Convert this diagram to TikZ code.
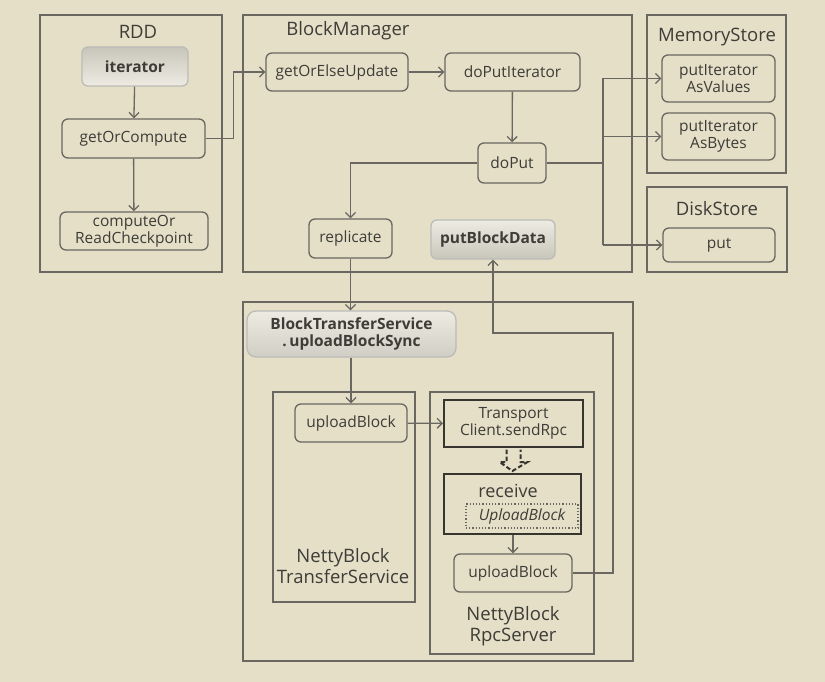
\documentclass[tikz,border=0pt]{standalone}
\usepackage{fontspec}
\setmainfont{Open Sans}
\usetikzlibrary{arrows.meta,calc}
\definecolor{bg}{RGB}{229,223,200}
\definecolor{ln}{RGB}{105,103,95}
\definecolor{dk}{RGB}{55,53,48}
\definecolor{tx}{RGB}{62,60,55}
\definecolor{shdark}{RGB}{200,198,186}
\definecolor{shlight}{RGB}{238,236,226}
\begin{document}
\begin{tikzpicture}[x=1pt,y=-1pt,
  font=\fontsize{15.5}{17}\selectfont, text=tx,
  cont/.style={draw=ln, line width=1.3pt},
  ttl/.style={font=\fontsize{18.5}{21}\selectfont, text=tx, inner sep=0pt, align=center},
  rb/.style={draw=ln, line width=1.3pt, rounded corners=6pt, align=center, inner sep=0pt, text=tx},
  sb/.style={draw=dk, line width=2pt, align=center, inner sep=0pt, text=tx},
  shd/.style={draw=ln!45, font=\fontsize{15.5}{17}\selectfont\bfseries},
  arr/.style={draw=ln, line width=1.3pt, -{Straight Barb[length=5pt,width=10pt,line width=1.3pt]}},
  ln/.style={draw=ln, line width=1.3pt}
]
\useasboundingbox (0,0) rectangle (825,682);
\fill[bg] (0,0) rectangle (825,682);

% containers
\draw[cont] (40,15) rectangle (222,272);
\node[ttl] (trdd) at (138,32) {RDD};
\draw[cont] (243,15) rectangle (632,272);
\node[ttl] (tbm) at (348,31) {BlockManager};
\draw[cont] (647,15) rectangle (786,173);
\node[ttl] (tms) at (717,37) {MemoryStore};
\draw[cont] (647,187) rectangle (787,272);
\node[ttl] (tds) at (717,209) {DiskStore};
\draw[cont] (243,302) rectangle (633,661);
\draw[cont] (273,392) rectangle (415,602);
\node[ttl] (tnbts) at (343,566) {NettyBlock\\TransferService};
\draw[cont] (430,392) rectangle (594,654);
\node[ttl] (tnbrs) at (513,626) {NettyBlock\\RpcServer};

% RDD nodes
\node[rb, shd, top color=shdark, bottom color=shlight, minimum width=106pt, minimum height=39pt] (iter) at (135,66.5) {iterator};
\node[rb, minimum width=143pt, minimum height=39pt] (goc) at (133.5,138.5) {getOrCompute};
\node[rb, minimum width=148pt, minimum height=38pt] (cor) at (134,231) {computeOr\\ReadCheckpoint};

% BlockManager nodes
\node[rb, minimum width=142pt, minimum height=38pt] (goeu) at (337,72) {getOrElseUpdate};
\node[rb, minimum width=135pt, minimum height=38pt] (dpi) at (512.5,72) {doPutIterator};
\node[rb, minimum width=68pt, minimum height=40pt] (dop) at (512,163) {doPut};
\node[rb, minimum width=83pt, minimum height=39pt] (rep) at (350.5,238.5) {replicate};
\node[rb, shd, top color=shlight, bottom color=shdark, minimum width=124pt, minimum height=39pt] (pbd) at (493,239.5) {putBlockData};

% stores
\node[rb, minimum width=113pt, minimum height=47pt] (piv) at (718.5,78.5) {putIterator\\AsValues};
\node[rb, minimum width=113pt, minimum height=47pt] (pib) at (718.5,136.5) {putIterator\\AsBytes};
\node[rb, minimum width=112pt, minimum height=34pt] (put) at (719,245) {put};

% lower nodes
\node[rb, shd, top color=shlight, bottom color=shdark!85, rounded corners=9pt, minimum width=209pt, minimum height=46pt] (bts) at (351.5,334) {BlockTransferService\\.\,uploadBlockSync};
\node[rb, minimum width=112pt, minimum height=38pt] (ub1) at (351,423) {uploadBlock};
\node[sb, minimum width=139pt, minimum height=47pt] (srpc) at (513.5,423.5) {Transport\\Client.sendRpc};
\node[sb, minimum width=137pt, minimum height=60pt] (recv) at (512.5,504) {};
\node[ttl, font=\fontsize{18}{20}\selectfont] (trecv) at (508,491) {receive};
\node[draw=ln, line width=1.2pt, dotted, inner sep=0pt, minimum width=112pt, minimum height=24pt, font=\fontsize{15.5}{17}\selectfont\itshape] (upb) at (522,516) {UploadBlock};
\node[rb, minimum width=118pt, minimum height=38pt] (ub2) at (513,573) {uploadBlock};

% connectors
\draw[arr] (iter) -- (goc);
\draw[arr] (goc) -- (cor);
\draw[arr] (goc.east) -- ++(28,0) |- (goeu.west);
\draw[arr] (goeu) -- (dpi);
\draw[arr] (dpi) -- (dop);
\draw[arr] (dop.west) -| (rep.north);
\coordinate (bt) at (603,78.5);
\coordinate (bb) at (603,245);
\draw[ln] (bt) -- (bb);
\draw[ln] (dop.east) -- (dop.east -| bt);
\draw[arr] (bt) -- (piv.west);
\draw[arr] (bt |- pib) -- (pib.west);
\draw[arr] (bb) -- (put.west);
\draw[arr] (rep.south) -- (rep.south |- bts.north);
\draw[arr] (bts.south -| ub1) -- (ub1.north);
\draw[arr] (ub1) -- (srpc);
\draw[arr] (recv.south -| ub2) -- (ub2.north);
\coordinate (c2) at (613,333);
\draw[arr] (ub2.east) -| (c2) -- (c2 -| pbd.south) -- (pbd.south);
% dashed hollow arrow
\draw[draw=dk, line width=2pt, dash pattern=on 4.5pt off 2.5pt]
  ($(srpc.south)+(-7,1.5)$) -- ++(0,12.5) -- ++(-7,0) -- ($(recv.north)+(0,-2)$)
  -- ($(srpc.south)+(14,14)$) -- ++(-7,0) -- ++(0,-12.5);
\end{tikzpicture}
\end{document}
